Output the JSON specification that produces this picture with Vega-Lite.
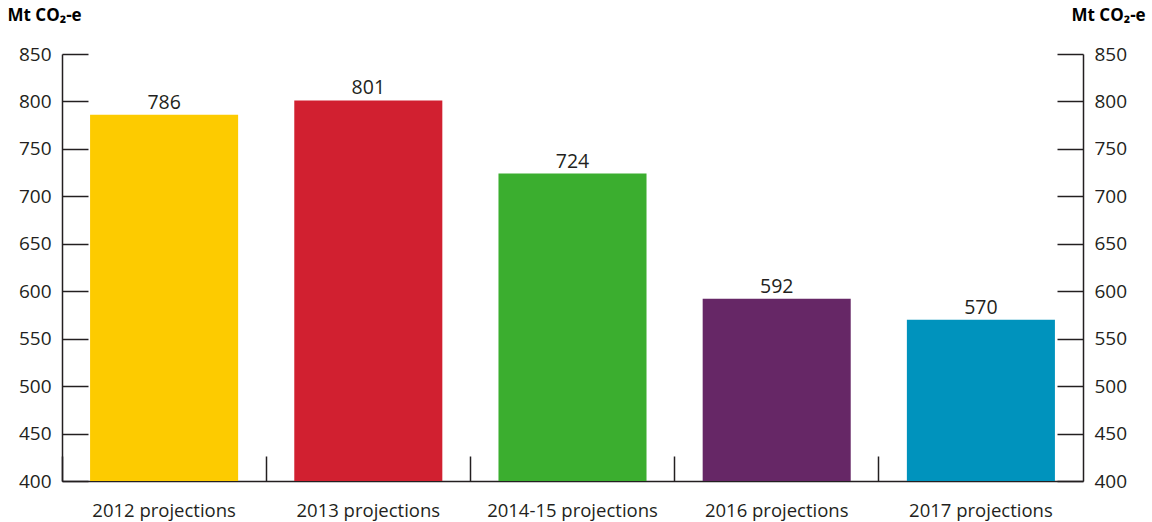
{
  "$schema": "https://vega.github.io/schema/vega-lite/v6.json",
  "width": 1021,
  "height": 427,
  "autosize": {"type": "none"},
  "padding": {"left": 62, "top": 54, "right": 69, "bottom": 41},
  "background": "white",
  "config": {
    "view": {"stroke": null},
    "font": "Open Sans",
    "axis": {
      "domainColor": "#231f20",
      "tickColor": "#231f20",
      "domainWidth": 1.5,
      "tickWidth": 1.5,
      "labelColor": "#231f20",
      "labelFont": "Open Sans",
      "grid": false
    }
  },
  "data": {
    "values": [
      {"label": "2012 projections", "value": 786, "color": "#FDCB00"},
      {"label": "2013 projections", "value": 801, "color": "#D12030"},
      {"label": "2014-15 projections", "value": 724, "color": "#3BAE2F"},
      {"label": "2016 projections", "value": 592, "color": "#662766"},
      {"label": "2017 projections", "value": 570, "color": "#0093BD"}
    ]
  },
  "encoding": {
    "x": {
      "field": "label",
      "type": "nominal",
      "sort": null,
      "scale": {"paddingInner": 0, "paddingOuter": 0},
      "axis": {
        "title": null,
        "labelAngle": 0,
        "labelFontSize": 18.5,
        "tickSize": -25,
        "bandPosition": 0,
        "labelPadding": 45,
        "labelBaseline": "top"
      }
    }
  },
  "layer": [
    {
      "mark": {"type": "bar", "width": {"band": 0.725}},
      "encoding": {
        "y": {
          "field": "value",
          "type": "quantitative",
          "scale": {"domain": [400, 850], "nice": false, "zero": false},
          "axis": {
            "orient": "left",
            "values": [400, 450, 500, 550, 600, 650, 700, 750, 800, 850],
            "tickSize": -26,
            "labelPadding": 37,
            "labelFontSize": 19,
            "title": "Mt CO₂-e",
            "titleAngle": 0,
            "titleFontSize": 17,
            "titleFontWeight": "bold",
            "titleAlign": "left",
            "titleBaseline": "alphabetic",
            "titleX": -55,
            "titleY": -34
          }
        },
        "y2": {"datum": 400},
        "color": {"field": "color", "type": "nominal", "scale": null}
      }
    },
    {
      "mark": {"type": "text", "dy": -6, "baseline": "alphabetic", "fontSize": 19.5, "color": "#231f20"},
      "encoding": {
        "y": {
          "field": "value",
          "type": "quantitative",
          "axis": {
            "orient": "right",
            "values": [400, 450, 500, 550, 600, 650, 700, 750, 800, 850],
            "tickSize": -26,
            "labelPadding": 37,
            "labelFontSize": 19,
            "title": "Mt CO₂-e",
            "titleAngle": 0,
            "titleFontSize": 17,
            "titleFontWeight": "bold",
            "titleAlign": "left",
            "titleBaseline": "alphabetic",
            "titleX": -12,
            "titleY": -34
          }
        },
        "text": {"field": "value", "type": "quantitative"}
      }
    }
  ],
  "resolve": {"axis": {"y": "independent"}}
}
